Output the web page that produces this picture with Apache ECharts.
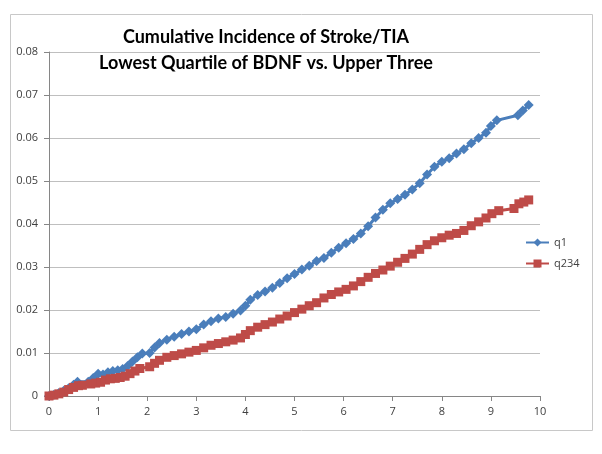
<!DOCTYPE html>
<html>
<head>
<meta charset="utf-8">
<script src="https://cdn.jsdelivr.net/npm/echarts@6/dist/echarts.min.js"></script>
<style>html,body{margin:0;padding:0;background:#fff}#c{width:602px;height:454px}</style>
</head>
<body>
<div id="c"></div>
<script>
const titleLines = ["Cumulative Incidence of Stroke/TIA", "Lowest Quartile of BDNF vs. Upper Three"];
const seriesNames = ["q1", "q234"];
const q1Time = [0.0,0.1,0.2,0.3,0.4,0.5,0.58,0.8,0.9,1.0,1.1,1.2,1.3,1.4,1.5,1.6,1.7,1.8,1.9,2.05,2.15,2.25,2.4,2.55,2.7,2.85,3.0,3.15,3.3,3.45,3.6,3.75,3.9,4.0,4.1,4.25,4.4,4.55,4.7,4.85,5.0,5.15,5.3,5.45,5.6,5.75,5.9,6.05,6.2,6.35,6.5,6.65,6.8,6.95,7.1,7.25,7.4,7.55,7.7,7.85,8.0,8.15,8.3,8.45,8.6,8.75,8.9,9.0,9.12,9.55,9.65,9.77];
const q1Value = [0.0,0.0003,0.0007,0.0012,0.0018,0.0026,0.0033,0.0033,0.0042,0.0052,0.0050,0.0055,0.0058,0.0060,0.0063,0.0070,0.0080,0.0090,0.0099,0.0100,0.0113,0.0123,0.0131,0.0138,0.0144,0.0150,0.0155,0.0166,0.0174,0.0180,0.0184,0.0191,0.0199,0.0210,0.0224,0.0235,0.0243,0.0252,0.0263,0.0274,0.0284,0.0294,0.0303,0.0314,0.0321,0.0333,0.0345,0.0355,0.0365,0.0378,0.0395,0.0415,0.0433,0.0448,0.0458,0.0468,0.0480,0.0495,0.0515,0.0533,0.0545,0.0553,0.0564,0.0574,0.0588,0.0600,0.0612,0.0628,0.0641,0.0653,0.0664,0.0677];
const q234Time = [0.0,0.1,0.2,0.3,0.4,0.5,0.6,0.68,0.85,0.95,1.05,1.15,1.25,1.35,1.45,1.55,1.65,1.75,1.85,2.05,2.15,2.25,2.4,2.55,2.7,2.85,3.0,3.15,3.3,3.45,3.6,3.75,3.9,4.0,4.1,4.25,4.4,4.55,4.7,4.85,5.0,5.15,5.3,5.45,5.6,5.75,5.9,6.05,6.2,6.35,6.5,6.65,6.8,6.95,7.1,7.25,7.4,7.55,7.7,7.85,8.0,8.15,8.3,8.45,8.6,8.75,8.9,9.02,9.16,9.47,9.57,9.67,9.77];
const q234Value = [0.0,0.0002,0.0005,0.0009,0.0015,0.0020,0.0024,0.0025,0.0028,0.0030,0.0032,0.0037,0.0040,0.0041,0.0043,0.0046,0.0052,0.0058,0.0064,0.0068,0.0076,0.0083,0.0090,0.0094,0.0098,0.0102,0.0106,0.0112,0.0118,0.0122,0.0126,0.0130,0.0135,0.0143,0.0152,0.0160,0.0166,0.0172,0.0179,0.0186,0.0194,0.0202,0.0210,0.0217,0.0228,0.0236,0.0242,0.0248,0.0256,0.0266,0.0276,0.0285,0.0293,0.0302,0.0311,0.0320,0.0330,0.0341,0.0352,0.0361,0.0368,0.0374,0.0378,0.0385,0.0396,0.0405,0.0414,0.0424,0.0431,0.0436,0.0447,0.0451,0.0456];
const xTicks = {min: 0, max: 10, interval: 1};
const yTicks = {min: 0, max: 0.08, interval: 0.01};

function pairs(xs, ys) { return xs.map((x, i) => [x, ys[i]]); }

const chart = echarts.init(document.getElementById('c'), null, {renderer: 'canvas'});
chart.setOption({
  animation: false,
  backgroundColor: '#ffffff',
  textStyle: {fontFamily: 'Lato, "DejaVu Sans", sans-serif'},
  graphic: [{
    type: 'rect', left: 8, top: 12, shape: {x: 0, y: 0, width: 582, height: 416},
    style: {fill: 'none', stroke: '#c8c8c8', lineWidth: 1}, silent: true, z: -1
  }],
  title: {
    text: titleLines.join('\n'),
    left: 261, top: 19, textAlign: 'center',
    textStyle: {fontFamily: 'Lato, sans-serif', fontWeight: 'bold', fontSize: 18, lineHeight: 26, color: '#000'}
  },
  legend: {
    orient: 'vertical', left: 520, top: 232, itemWidth: 23, itemHeight: 10, itemGap: 10,
    textStyle: {fontSize: 11, color: '#404040', fontFamily: '"Open Sans", sans-serif'},
    data: seriesNames
  },
  grid: {left: 49, right: 62, top: 52, bottom: 58, containLabel: false},
  xAxis: {
    type: 'value', min: xTicks.min, max: xTicks.max, interval: xTicks.interval,
    axisLine: {lineStyle: {color: '#868686'}},
    axisTick: {show: true, length: 5, lineStyle: {color: '#868686'}},
    splitLine: {show: false},
    axisLabel: {color: '#404040', fontSize: 11, margin: 10, fontFamily: '"Open Sans", sans-serif'}
  },
  yAxis: {
    type: 'value', min: yTicks.min, max: yTicks.max, interval: yTicks.interval,
    axisLine: {show: true, lineStyle: {color: '#868686'}},
    axisTick: {show: true, length: 5, lineStyle: {color: '#868686'}},
    splitLine: {show: true, lineStyle: {color: '#bfbfbf'}},
    axisLabel: {color: '#404040', fontSize: 11, margin: 11, fontFamily: '"Open Sans", sans-serif',
      formatter: v => v === 0 ? '0' : v.toFixed(2)}
  },
  series: [{
    name: seriesNames[0], type: 'line', data: pairs(q1Time, q1Value),
    symbol: 'diamond', symbolSize: 10, showAllSymbol: true,
    lineStyle: {color: '#4a7ebb', width: 3}, itemStyle: {color: '#4a7ebb'}
  }, {
    name: seriesNames[1], type: 'line', data: pairs(q234Time, q234Value),
    symbol: 'rect', symbolSize: 9, showAllSymbol: true,
    lineStyle: {color: '#be4b48', width: 3}, itemStyle: {color: '#be4b48'}
  }]
});
</script>
</body>
</html>
